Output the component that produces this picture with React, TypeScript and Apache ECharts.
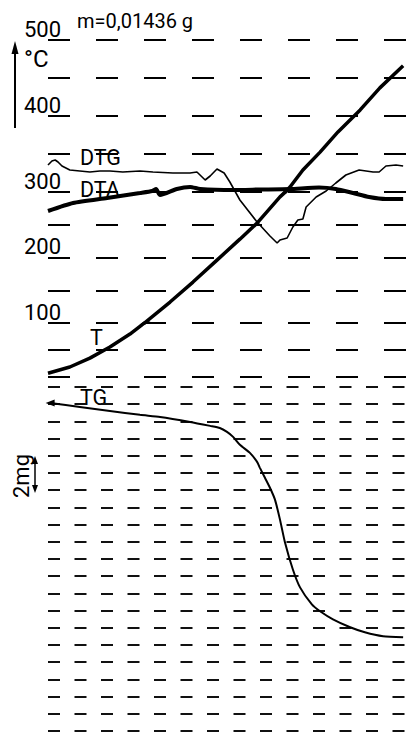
import React, { useEffect, useRef } from "react";
import * as echarts from "echarts";

// ---- Data (time in % of run, 0..100) ----
// Temperature curve T (°C)
const tTime = [0, 6.1, 11.7, 17.3, 22.9, 26.5, 34.1, 40.5, 47.2, 53.6, 58.4, 64.8, 67.6, 71.2, 76.0, 81.0, 87.2, 92.7, 99.2];
const tTemp = [7, 18.5, 35, 55.5, 79.5, 98, 132, 162.5, 196, 228, 252.5, 292.5, 306.5, 329, 352.5, 379, 408, 437, 466];

// DTA signal (arbitrary units)
const dtaTime = [0, 7.0, 16.5, 25.7, 29.1, 30.2, 31.3, 36.0, 39.7, 42.5, 51.7, 59.2, 67.6, 75.7, 80.4, 85.2, 89.7, 94.4, 99.2];
const dtaSignal = [-5.5, -1.5, 1, 3.5, 4.5, 5.5, 2.5, 5.5, 6.5, 5.5, 5, 5.25, 5.5, 6.25, 5.5, 3.5, 1.5, 0.5, 0.5];

// DTG signal (arbitrary units)
const dtgTime = [0, 1.1, 2.0, 2.8, 3.9, 6.1, 8.9, 11.7, 14.5, 17.3, 20.9, 25.7, 29.3, 34.9, 39.7, 41.6, 43.9, 45.3, 47.2, 49.2, 50.8, 53.6, 58.4, 62.0, 64.0, 64.8, 66.8, 68.4, 69.8, 71.2, 72.1, 74.9, 77.7, 80.4, 83.2, 86.9, 90.8, 92.5, 94.4, 97.2, 99.2];
const dtgSignal = [17.5, 19.5, 20, 19, 17, 15, 14.5, 14, 14.5, 14.5, 14, 14.5, 14, 13.5, 13.5, 14, 10, 12, 15.5, 13.5, 9, 0, -11, -18, -21.5, -20, -19, -13.5, -10, -9.5, -3.5, 1.5, 4.5, 8.5, 12.5, 15, 14, 14, 17, 17.5, 17];

// TG mass loss (mg)
const tgTime = [0.6, 8.9, 17.3, 25.7, 31.3, 39.7, 45.3, 48.0, 50.0, 51.7, 53.6, 56.4, 58.4, 59.2, 60.6, 62.0, 63.4, 64.8, 66.2, 68.4, 70.4, 73.7, 76.0, 79.6, 84.4, 88.5, 93.6, 99.2];
const tgLoss = [0.93, 1.16, 1.39, 1.62, 1.74, 2.03, 2.26, 2.38, 2.61, 2.9, 3.36, 3.83, 4.35, 4.7, 5.28, 5.86, 6.55, 7.71, 9.04, 10.61, 11.65, 12.64, 13.04, 13.51, 13.97, 14.26, 14.49, 14.55];

// Tick labels and texts
const tempTickLabels = [100, 200, 300, 400, 500];
const massTickMax = 20;
const sampleMassText = "m=0,01436 g";
const unitText = "°C";
const massScaleText = "2mg";
const curveNames = { t: "T", dta: "DTA", dtg: "DTG", tg: "TG" };

const zip = (xs: number[], ys: number[]) => xs.map((x, i) => [x, ys[i]]);

export default function App() {
  const ref = useRef<HTMLDivElement>(null);

  useEffect(() => {
    const chart = echarts.init(ref.current!, null, { renderer: "svg" });
    const font = "Roboto";
    const left = 48;
    const width = 358;

    // temperature scale bands (piecewise, as drawn on the paper)
    const bands = [
      { lo: 300, hi: 500, top: 40, height: 152 },
      { lo: 100, hi: 300, top: 192, height: 131 },
      { lo: 0, hi: 100, top: 323, height: 54 },
    ];

    const grids: any[] = [];
    const xAxes: any[] = [];
    const yAxes: any[] = [];
    const series: any[] = [];

    const tData = zip(tTime, tTemp);

    bands.forEach((b, i) => {
      grids.push({ left, width, top: b.top, height: b.height, containLabel: false });
      xAxes.push({ type: "value", gridIndex: i, min: 0, max: 100, show: false });
      yAxes.push({
        type: "value",
        gridIndex: i,
        min: b.lo,
        max: b.hi,
        interval: 50,
        axisLine: { show: false },
        axisTick: { show: false },
        splitLine: {
          show: true,
          lineStyle: { type: [22, 26], width: 2, color: "#000" },
        },
        axisLabel: {
          show: true,
          margin: -13,
          align: "right",
          verticalAlign: "bottom",
          lineHeight: 22,
          fontSize: 22,
          fontFamily: font,
          color: "#000",
          formatter: (v: number) =>
            tempTickLabels.includes(v) && v >= b.lo && (v < b.hi || i === 0) ? String(v) : "",
        },
      });
      series.push({
        type: "line",
        name: curveNames.t,
        xAxisIndex: i,
        yAxisIndex: i,
        data: tData,
        symbol: "none",
        showSymbol: false,
        clip: true,
        silent: true,
        lineStyle: { width: 3.5, color: "#000" },
      });
    });

    // DTA / DTG grid
    grids.push({ left, width, top: 140, height: 120 });
    xAxes.push({ type: "value", gridIndex: 3, min: 0, max: 100, show: false });
    yAxes.push({ type: "value", gridIndex: 3, min: -30, max: 30, show: false });
    series.push({
      type: "line",
      name: curveNames.dta,
      xAxisIndex: 3,
      yAxisIndex: 3,
      data: zip(dtaTime, dtaSignal),
      symbol: "none",
      smooth: 0.2,
      silent: true,
      lineStyle: { width: 4, color: "#000" },
    });
    series.push({
      type: "line",
      name: curveNames.dtg,
      xAxisIndex: 3,
      yAxisIndex: 3,
      data: zip(dtgTime, dtgSignal),
      symbol: "none",
      silent: true,
      lineStyle: { width: 1.6, color: "#000" },
    });

    // TG grid
    grids.push({ left, width, top: 387, height: 344 });
    xAxes.push({ type: "value", gridIndex: 4, min: 0, max: 100, show: false });
    yAxes.push({
      type: "value",
      gridIndex: 4,
      min: 0,
      max: massTickMax,
      interval: 1,
      inverse: true,
      axisLine: { show: false },
      axisTick: { show: false },
      axisLabel: { show: false },
      splitLine: { show: true, lineStyle: { type: [12, 14.5], width: 2, color: "#111" } },
    });
    const tgData: any[] = zip(tgTime, tgLoss);
    tgData[0] = {
      value: tgData[0],
      symbol: "triangle",
      symbolSize: [7, 9],
      symbolRotate: 90,
      itemStyle: { color: "#000" },
    };
    series.push({
      type: "line",
      name: curveNames.tg,
      xAxisIndex: 4,
      yAxisIndex: 4,
      data: tgData,
      symbol: "none",
      showSymbol: true,
      smooth: 0.2,
      silent: true,
      lineStyle: { width: 2, color: "#000" },
    });

    const txt = (text: string, x: number, y: number, size: number, align = "left") => ({
      type: "text",
      x,
      y,
      style: {
        text,
        x: 0,
        y: 0,
        fill: "#000",
        font: `${size}px ${font}`,
        align,
        verticalAlign: "middle",
      },
    });

    const graphic: any[] = [
      txt(sampleMassText, 77, 20.5, 20),
      txt(unitText, 24, 58.5, 24),
      txt(curveNames.dtg, 80, 157.5, 21.5),
      txt(curveNames.dta, 80, 189.5, 21.5),
      txt(curveNames.t, 90, 337.5, 21.5),
      txt(curveNames.tg, 80, 397.5, 21.5),
      { ...txt(massScaleText, 21, 476, 22, "center"), rotation: Math.PI / 2 },
      { type: "line", shape: { x1: 15, y1: 128, x2: 15, y2: 50 }, style: { stroke: "#000", lineWidth: 2 } },
      { type: "polygon", shape: { points: [[15, 41], [11.5, 54], [18.5, 54]] }, style: { fill: "#000" } },
      { type: "line", shape: { x1: 35, y1: 462, x2: 35, y2: 487 }, style: { stroke: "#000", lineWidth: 1.5 } },
      { type: "polygon", shape: { points: [[35, 456], [32, 464], [38, 464]] }, style: { fill: "#000" } },
      { type: "polygon", shape: { points: [[35, 493], [32, 485], [38, 485]] }, style: { fill: "#000" } },
    ];

    chart.setOption({
      animation: false,
      backgroundColor: "#fff",
      grid: grids,
      xAxis: xAxes,
      yAxis: yAxes,
      series,
      graphic,
    });

    return () => chart.dispose();
  }, []);

  return (
    <div
      ref={ref}
      style={{ position: "fixed", left: 0, top: 0, width: 406, height: 732, background: "#fff" }}
    />
  );
}
